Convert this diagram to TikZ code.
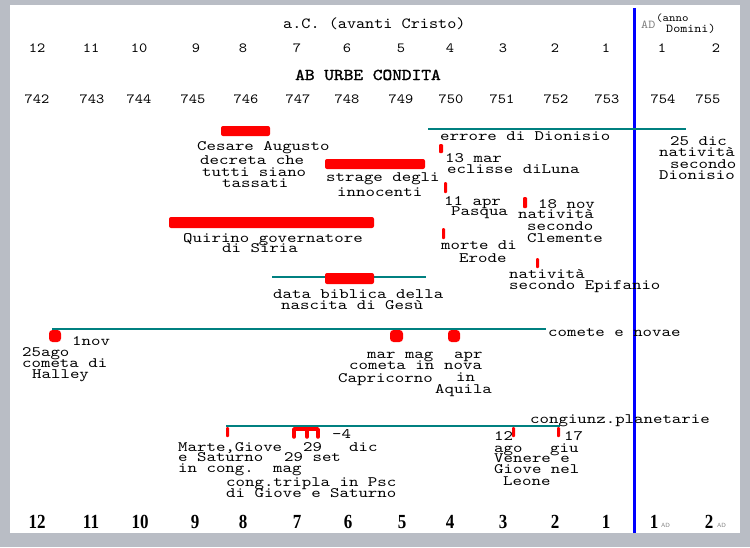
\documentclass[tikz,border=0pt]{standalone}
\usepackage{fontspec}
\newfontfamily\mono[FakeStretch=1.25]{lmmono10-regular.otf}
\newfontfamily\monoh[FakeStretch=1.12]{lmmono10-regular.otf}
\newfontfamily\monob[FakeStretch=1.12,FakeBold=1.5]{lmmono10-regular.otf}
\newfontfamily\digs[FakeStretch=0.85]{Liberation Serif}
\definecolor{bgc}{RGB}{185,189,197}
\definecolor{tealc}{RGB}{0,128,128}
\tikzset{
  lbl/.style={font=\mono\fontsize{14.4}{14}\selectfont, inner sep=0pt, anchor=base west, text height=8pt, text depth=1.5pt},
  hdr/.style={font=\monoh\fontsize{15.5}{16}\selectfont, inner sep=0pt, anchor=base west},
  yr/.style={font=\monoh\fontsize{14}{14}\selectfont, inner sep=0pt, anchor=base},
  bot/.style={font=\digs\bfseries\fontsize{20}{20}\selectfont, inner sep=0pt, anchor=base},
  tiny/.style={font=\sffamily\fontsize{6}{6}\selectfont, text=gray, inner sep=0pt, anchor=base west},
  redbar/.style={fill=red, rounded corners=2pt},
  redmark/.style={fill=red, rounded corners=1pt},
  dot/.style={fill=red, rounded corners=3.5pt},
  tl/.style={draw=tealc, line width=1.3pt}
}
\begin{document}
\begin{tikzpicture}[x=1pt,y=-1pt]
\fill[bgc] (0,0) rectangle (750,547);
\fill[white] (10,5) rectangle (740,533);
\useasboundingbox (0,0) rectangle (750,547);

% era line
\coordinate (eratop) at (634,8);
\coordinate (erabot) at (634,533);
\draw[blue, line width=3pt] (eratop) -- (erabot);

% headers
\node[hdr] (hac) at (283,28) {a.C. (avanti Cristo)};
\node[font=\monob\fontsize{16.5}{17}\selectfont, inner sep=0pt, anchor=base west] (hauc) at (295,80) {AB URBE CONDITA};
\node[font=\monoh\fontsize{12}{12}\selectfont, inner sep=0pt, anchor=base west, text=gray] (had) at (641,28) {AD};
\node[font=\monoh\fontsize{11}{11}\selectfont, inner sep=0pt, anchor=base west] (hanno) at (656,21) {(anno};
\node[font=\monoh\fontsize{12}{12}\selectfont, inner sep=0pt, anchor=base west] (hdom) at (666,32) {Domini)};

% year rows
\foreach \x/\t [count=\i] in {37/12,91/11,139/10,196/9,243/8,297/7,347/6,401/5,450/4,503/3,555/2,606/1,662/1,716/2}
  \node[yr] (ya\i) at (\x,52) {\t};
\foreach \x/\t [count=\i] in {37/742,92/743,139/744,193/745,246/746,298/747,347/748,401/749,451/750,502/751,556/752,607/753,663/754,708/755}
  \node[yr] (yu\i) at (\x,103) {\t};
\foreach \x/\t [count=\i] in {37/12,91/11,140/10,195/9,243/8,297/7,348/6,402/5,450/4,503/3,555/2,606/1,654/1,709/2}
  \node[bot] (yb\i) at (\x,528) {\t};
\node[tiny] (bad1) at (661,527) {AD};
\node[tiny] (bad2) at (717,527) {AD};

% red bars
\fill[redbar] (221,126) rectangle (270,136);
\fill[redbar] (325,159) rectangle (425,169);
\fill[redbar] (169,217) rectangle (374,228);
\coordinate (db1) at (272,277);
\coordinate (db2) at (426,277);
\draw[tl] (db1) -- (db2);
\fill[redbar] (325,273) rectangle (374,284);

% errore di Dionisio line
\coordinate (er1) at (428,129);
\coordinate (er2) at (686,129);
\draw[tl] (er1) -- (er2);

% small red marks
\fill[redmark] (439,144) rectangle (443,153);
\fill[redmark] (444,182) rectangle (447,193);
\fill[redmark] (523,197) rectangle (527,208);
\fill[redmark] (442,228) rectangle (445,239);
\fill[redmark] (536,258) rectangle (539,268);

% texts upper
\node[lbl] (ces1) at (197,150) {Cesare Augusto};
\node[lbl] (ces2) at (200,164) {decreta che};
\node[lbl] (ces3) at (202,176) {tutti siano};
\node[lbl] (ces4) at (222,187) {tassati};
\node[lbl] (str1) at (326,181) {strage degli};
\node[lbl] (str2) at (337,196) {innocenti};
\node[lbl] (qui1) at (183,242) {Quirino governatore};
\node[lbl] (qui2) at (222,252) {di Siria};
\node[lbl] (dat1) at (273,298) {data biblica della};
\node[lbl] (dat2) at (281,309) {nascita di Gesù};
\node[lbl] (err) at (440,140) {errore di Dionisio};
\node[lbl] (ecl1) at (445,162) {13 mar};
\node[lbl] (ecl2) at (447,173) {eclisse diLuna};
\node[lbl] (pas1) at (444,205) {11 apr};
\node[lbl] (pas2) at (451,215) {Pasqua};
\node[lbl] (cle1) at (538,208) {18 nov};
\node[lbl] (cle2) at (518,218) {natività};
\node[lbl] (cle3) at (527,230) {secondo};
\node[lbl] (cle4) at (527,242) {Clemente};
\node[lbl] (ero1) at (441,249) {morte di};
\node[lbl] (ero2) at (459,262) {Erode};
\node[lbl] (epi1) at (509,278) {natività};
\node[lbl] (epi2) at (509,289) {secondo Epifanio};
\node[lbl] (dio1) at (670,145) {25 dic};
\node[lbl] (dio2) at (659,156) {natività};
\node[lbl] (dio3) at (670,168) {secondo};
\node[lbl] (dio4) at (659,179) {Dionisio};

% comete e novae
\coordinate (cm1) at (52,329);
\coordinate (cm2) at (546,329);
\draw[tl] (cm1) -- (cm2);
\fill[dot] (49,330) rectangle (61,342);
\fill[dot] (390,330) rectangle (403,342);
\fill[dot] (448,330) rectangle (460,342);
\node[lbl] (com) at (548,336) {comete e novae};
\node[lbl] (hal0) at (72,345) {1nov};
\node[lbl] (hal1) at (22,356) {25ago};
\node[lbl] (hal2) at (22,367) {cometa di};
\node[lbl] (hal3) at (32,378) {Halley};
\node[lbl] (cap1) at (367,358) {mar mag};
\node[lbl] (cap2) at (349,369) {cometa in};
\node[lbl] (cap3) at (338,382) {Capricorno};
\node[lbl] (aq1) at (454,358) {apr};
\node[lbl] (aq2) at (444,369) {nova};
\node[lbl] (aq3) at (456,381) {in};
\node[lbl] (aq4) at (435,393) {Aquila};

% congiunzioni planetarie
\coordinate (cg1) at (226,426);
\coordinate (cg2) at (560,426);
\draw[tl] (cg1) -- (cg2);
\fill[redmark] (226,427) rectangle (229,437);
\draw[red, line width=3.5pt, line cap=round, line join=round] (294,437) -- (294,429) -- (318,429) -- (318,437);
\draw[red, line width=3.5pt, line cap=round] (307,429) -- (307,437);
\fill[redmark] (512,427) rectangle (515,437);
\fill[redmark] (557,427) rectangle (560,437);
\node[lbl] (cng) at (530,423) {congiunz.planetarie};
\node[lbl] (m4) at (332,438) {-4};
\node[lbl] (mg1) at (178,451) {Marte,Giove};
\node[lbl] (n29) at (303,451) {29};
\node[lbl] (dic) at (349,451) {dic};
\node[lbl] (mg2) at (178,461) {e Saturno};
\node[lbl] (set) at (284,461) {29 set};
\node[lbl] (mg3) at (178,472) {in cong.};
\node[lbl] (mag) at (273,472) {mag};
\node[lbl] (tri1) at (226,486) {cong.tripla in Psc};
\node[lbl] (tri2) at (226,497) {di Giove e Saturno};
\node[lbl] (ve0) at (494,440) {12};
\node[lbl] (ve17) at (564,440) {17};
\node[lbl] (ve1) at (494,452) {ago};
\node[lbl] (giu) at (550,452) {giu};
\node[lbl] (ve2) at (494,462) {Venere e};
\node[lbl] (ve3) at (494,473) {Giove nel};
\node[lbl] (ve4) at (503,485) {Leone};
\end{tikzpicture}
\end{document}
